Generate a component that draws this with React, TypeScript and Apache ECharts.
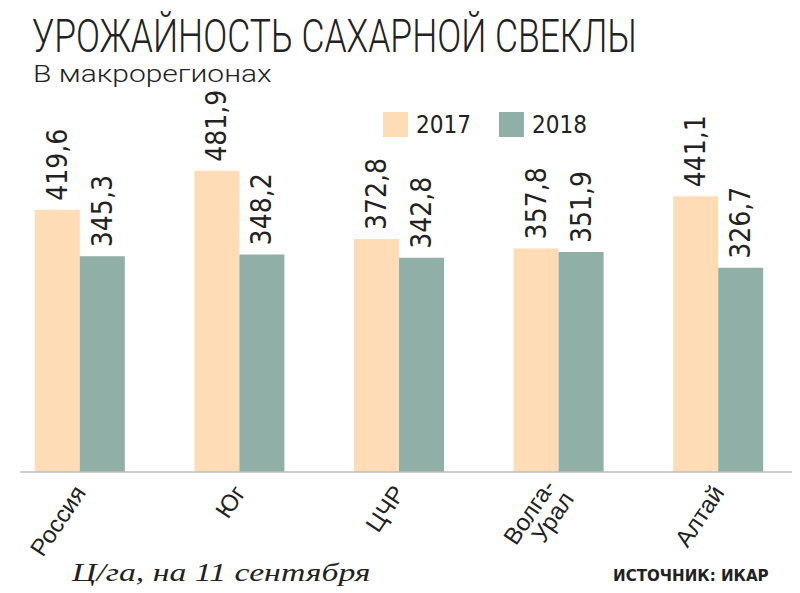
import React, { useEffect, useRef } from "react";
import * as echarts from "echarts";

const categories = ["Россия", "Юг", "ЦЧР", "Волга-\nУрал", "Алтай"];
const seriesNames = ["2017", "2018"];
const values2017 = [419.6, 481.9, 372.8, 357.8, 441.1];
const values2018 = [345.3, 348.2, 342.8, 351.9, 326.7];
const titleText = "УРОЖАЙНОСТЬ САХАРНОЙ СВЕКЛЫ";
const subtitleText = "В макрорегионах";
const unitText = "Ц/га, на 11 сентября";
const sourceText = "ИСТОЧНИК: ИКАР";

const PEACH = "#FDDCB6";
const GREEN = "#8FAFA7";
const NARROW = "'DejaVu Sans Condensed', 'Liberation Sans Narrow', sans-serif";

export default function App() {
  const ref = useRef<HTMLDivElement>(null);
  useEffect(() => {
    if (!ref.current) return;
    const chart = echarts.init(ref.current, null, { renderer: "svg" });
    const fmt = (p: any) => String(p.value).replace(".", ",");
    const labelStyle = {
      show: true,
      position: "top",
      rotate: 90,
      align: "left",
      verticalAlign: "middle",
      distance: 9,
      fontSize: 28,
      fontFamily: NARROW,
      color: "#222",
      formatter: fmt,
    };
    chart.setOption({
      animation: false,
      backgroundColor: "#fff",
      legend: {
        data: seriesNames,
        left: 383,
        top: 112,
        padding: 0,
        itemWidth: 25,
        itemHeight: 25,
        itemGap: 28,
        icon: "rect",
        textStyle: { fontSize: 24, fontFamily: NARROW, color: "#222", padding: [0, 0, 0, 3] },
      },
      grid: { left: -2, right: 2, top: 97, bottom: 121, containLabel: false },
      xAxis: {
        type: "category",
        data: categories,
        axisLine: { show: false },
        axisTick: { show: false },
        axisLabel: {
          rotate: 56,
          margin: 16,
          fontSize: 24,
          lineHeight: 22,
          fontFamily: "'Liberation Sans', Arial, sans-serif",
          color: "#222",
          interval: 0,
        },
      },
      yAxis: {
        type: "value",
        min: 0,
        max: 600,
        show: false,
        splitLine: { show: false },
      },
      series: [
        {
          name: seriesNames[0],
          type: "bar",
          data: values2017,
          barWidth: 45,
          barGap: "0%",
          barCategoryGap: "43.75%",
          itemStyle: { color: PEACH },
          label: labelStyle,
        },
        {
          name: seriesNames[1],
          type: "bar",
          data: values2018,
          barWidth: 45,
          barGap: "0%",
          itemStyle: { color: GREEN },
          label: labelStyle,
        },
      ],
      graphic: [
        {
          type: "text",
          x: 32,
          y: 13,
          scaleX: 0.77,
          style: {
            text: titleText,
            fontSize: 46,
            fontWeight: 300,
            fontFamily: "Roboto, 'Noto Sans', sans-serif",
            fill: "#222",
            textVerticalAlign: "top",
          },
        },
        {
          type: "text",
          x: 33,
          y: 62,
          scaleX: 1.25,
          style: {
            text: subtitleText,
            fontSize: 24,
            fontWeight: 300,
            fontFamily: "Roboto, 'Noto Sans', sans-serif",
            fill: "#222",
            textVerticalAlign: "top",
          },
        },
        {
          type: "line",
          shape: { x1: 20, y1: 472, x2: 792, y2: 472 },
          style: { stroke: "#bdbdbd", lineWidth: 1.5 },
          z: 10,
        },
        {
          type: "text",
          x: 72,
          y: 559,
          scaleX: 1.3,
          style: {
            text: unitText,
            fontSize: 26,
            fontStyle: "italic",
            fontFamily: "'Liberation Serif', 'DejaVu Serif', serif",
            fill: "#222",
            textVerticalAlign: "top",
          },
        },
        {
          type: "text",
          x: 613,
          y: 568,
          scaleX: 1.12,
          style: {
            text: sourceText,
            fontSize: 15,
            fontWeight: "bold",
            fontFamily: "'DejaVu Sans Condensed', 'Liberation Sans Narrow', sans-serif",
            fill: "#222",
            textVerticalAlign: "top",
          },
        },
      ],
    });
    return () => chart.dispose();
  }, []);
  return (
    <div
      ref={ref}
      style={{ position: "fixed", left: 0, top: 0, width: 800, height: 593 }}
    />
  );
}
